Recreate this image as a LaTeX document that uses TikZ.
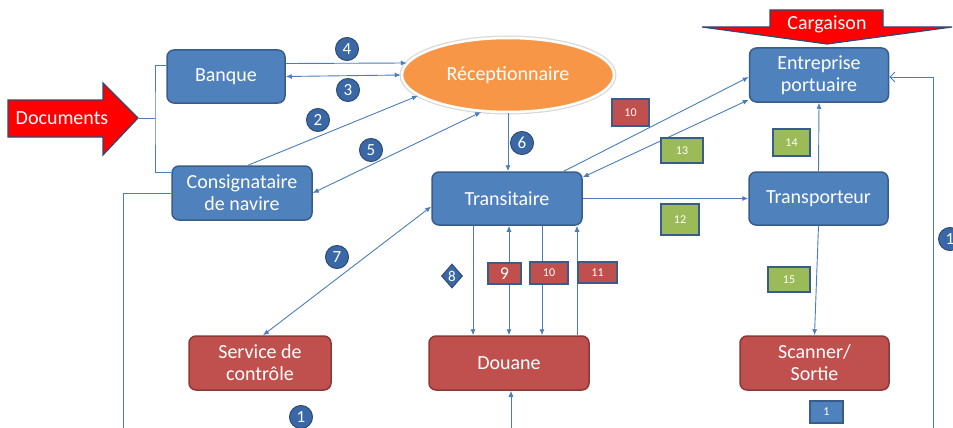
\documentclass[tikz,border=0pt]{standalone}
\usepackage{fontspec}
\setmainfont{Carlito}
\usepackage{xcolor}
\usetikzlibrary{shapes.geometric,arrows.meta}

\definecolor{boxblue}{HTML}{4F81BD}
\definecolor{boxblueline}{HTML}{385D8A}
\definecolor{boxred}{HTML}{C0504D}
\definecolor{boxredline}{HTML}{8C3836}
\definecolor{taggreen}{HTML}{9BBB59}
\definecolor{recorange}{HTML}{F79646}
\definecolor{numblue}{HTML}{3A68A6}
\definecolor{linkblue}{HTML}{4A7EBB}
\definecolor{arrowline}{HTML}{2F4A73}

\tikzset{
    bluebox/.style = {rectangle, rounded corners=7pt, fill=boxblue, draw=boxblueline, line width=1.5pt,
        text=white, font=\fontsize{20}{22}\selectfont, align=center, inner sep=0pt},
    redbox/.style = {bluebox, fill=boxred, draw=boxredline},
    tagbox/.style = {rectangle, draw=boxblueline, line width=1.5pt, text=white, inner sep=0pt,
        font=\fontsize{12}{12}\selectfont},
    numdot/.style = {circle, fill=numblue, draw=arrowline, line width=1pt, text=white,
        minimum size=23pt, inner sep=0pt, font=\fontsize{17}{17}\selectfont},
    link/.style = {draw=linkblue, line width=0.9pt},
    onetip/.style = {-{Latex[length=6pt,width=5pt]}},
    backtip/.style = {{Latex[length=6pt,width=5pt]}-},
    twotip/.style = {{Latex[length=6pt,width=5pt]}-{Latex[length=6pt,width=5pt]}}
}

\begin{document}
\begin{tikzpicture}[x=1pt,y=-1pt]

    \useasboundingbox (0,0) rectangle (953,428);

    % documents arrow
    \filldraw [fill=red, draw=arrowline, line width=1.2pt] (8,100) -- (103,100) -- (103,83) -- (138,118) -- (103,155) -- (103,137) -- (8,137) -- cycle;
    \node [font=\fontsize{20}{22}\selectfont, text=white] (docs) at (62,118) {Documents};
    \coordinate (docstip) at (139,118);
    \coordinate (brace) at (155,118);

    % cargaison arrow
    \filldraw [fill=red, draw=arrowline, line width=1.2pt] (770,10) -- (883,10) -- (883,27) -- (952,27) -- (827,44) -- (702,27) -- (770,27) -- cycle;
    \node [font=\fontsize{20}{22}\selectfont, text=white] (cargo) at (827,24) {Cargaison};

    % actors
    \node [bluebox, minimum width=118, minimum height=53] (banque) at (226,76.5) {Banque};
    \node [bluebox, minimum width=140, minimum height=54] (consig) at (242,193) {Consignataire\\de navire};
    \node [ellipse, fill=recorange, draw=white, line width=2.5pt, preaction={draw=black!15, line width=5pt},
        minimum width=212, minimum height=74, inner sep=0pt, text=white,
        font=\fontsize{20}{22}\selectfont] (recep) at (508,75) {Réceptionnaire};
    \node [bluebox, minimum width=150, minimum height=53] (trans) at (507,198.5) {Transitaire};
    \node [bluebox, minimum width=139, minimum height=54] (entrep) at (819,75) {Entreprise\\portuaire};
    \node [bluebox, minimum width=139, minimum height=53] (transp) at (818.5,198.5) {Transporteur};
    \node [redbox, minimum width=142, minimum height=54] (service) at (260,363) {Service de\\contrôle};
    \node [redbox, minimum width=160, minimum height=54] (douane) at (509,363) {Douane};
    \node [redbox, minimum width=149, minimum height=54] (scanner) at (814.5,363) {Scanner/\\Sortie};

    % free ends
    \coordinate (leftend) at (123,428);
    \coordinate (rightend) at (933,428);
    \coordinate (douanein) at (511,428);

    % links
    \draw [link] (docstip) -- (brace);
    \draw [link] ([yshift=11.5]banque.west) -| (brace) |- ([yshift=21]consig.west);
    \draw [link, onetip] ([yshift=13]banque.east) -- ([xshift=6,yshift=12]recep.west);
    \draw [link, twotip] (banque.east) -- (recep.west);
    \draw [link, onetip] ([xshift=6]consig.north) -- (recep.193);
    \draw [link, twotip] (consig.east) -- (recep.234);
    \draw [link, onetip] (recep.south) -- (recep.south |- trans.north);
    \draw [link, onetip] ([xshift=-19]trans.north east) -- ([yshift=-2]entrep.west);
    \draw [link, twotip] ([yshift=-6]trans.north east) -- ([yshift=3]entrep.south west);
    \draw [link, onetip] (trans.east) -- (transp.west);
    \draw [link, onetip] (transp.north) -- (entrep.south);
    \draw [link, twotip] ([yshift=-8]trans.west) -- ([xshift=3]service.north);
    \draw [link, onetip] ([xshift=-34]trans.south) -- ([xshift=-34]trans.south |- douane.north);
    \draw [link, twotip] ([xshift=2]trans.south) -- ([xshift=2]trans.south |- douane.north);
    \draw [link, onetip] ([xshift=35]trans.south) -- ([xshift=35]trans.south |- douane.north);
    \draw [link, backtip] ([xshift=70]trans.south) -- ([xshift=70]trans.south |- douane.north);
    \draw [link, onetip] (douanein) -- (douanein |- douane.south);
    \draw [link, onetip] (transp.south) -- (scanner.north);
    \draw [link] (consig.west) -| (leftend);
    \draw [link, -{Straight Barb[length=5pt,width=10pt]}] (rightend) |- ([yshift=-2]entrep.east);

    % step numbers
    \node [numdot] (n4) at (347,49) {4};
    \node [numdot] (n3) at (348,90) {3};
    \node [numdot] (n2) at (318,120) {2};
    \node [numdot] (n5) at (371,150) {5};
    \node [numdot] (n6) at (522,143) {6};
    \node [numdot] (n7) at (337,257) {7};
    \node [numdot] (n1) at (301,417) {1};
    \node [numdot] (n1r) at (950,239) {1};
    \node [diamond, fill=numblue, draw=arrowline, line width=1pt, text=white, inner sep=0pt,
        minimum width=21, minimum height=24, font=\fontsize{15}{15}\selectfont] (n8) at (452,276) {8};

    % tags
    \node [tagbox, fill=boxred, minimum width=37, minimum height=27] (tag10a) at (630.5,112.5) {10};
    \node [tagbox, fill=taggreen, minimum width=42, minimum height=25] (tag13) at (682,150.5) {13};
    \node [tagbox, fill=taggreen, minimum width=37, minimum height=27] (tag14) at (791.5,142.5) {14};
    \node [tagbox, fill=taggreen, minimum width=38, minimum height=31] (tag12) at (680,219.5) {12};
    \node [tagbox, fill=boxred, minimum width=33, minimum height=21, font=\fontsize{18}{18}\selectfont] (tag9) at (504.5,273.5) {9};
    \node [tagbox, fill=boxred, minimum width=38, minimum height=22] (tag10b) at (549,273) {10};
    \node [tagbox, fill=boxred, minimum width=39, minimum height=21] (tag11) at (597.5,272.5) {11};
    \node [tagbox, fill=taggreen, minimum width=42, minimum height=25] (tag15) at (789,279.5) {15};
    \node [tagbox, fill=boxblue, minimum width=33, minimum height=22] (tag1) at (826.5,412) {1};

\end{tikzpicture}
\end{document}
